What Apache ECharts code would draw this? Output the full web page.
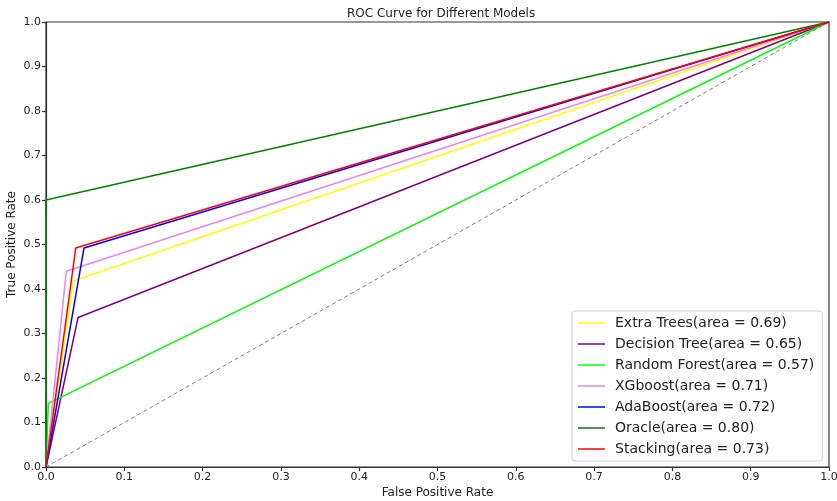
<!DOCTYPE html>
<html><head><meta charset="utf-8">
<script src="https://cdn.jsdelivr.net/npm/echarts@6/dist/echarts.min.js"></script>
<style>html,body{margin:0;padding:0;background:#fff}#c{width:837px;height:501px}</style>
</head><body><div id="c"></div>
<script>
const modelNames = ['Extra Trees(area = 0.69)','Decision Tree(area = 0.65)','Random Forest(area = 0.57)','XGboost(area = 0.71)','AdaBoost(area = 0.72)','Oracle(area = 0.80)','Stacking(area = 0.73)'];
const modelColors = ['#ffff00','#800080','#00ff00','#ee82ee','#0000ff','#008000','#ff0000'];
const fprExtraTrees = [0, 0.035, 1];
const tprExtraTrees = [0, 0.418, 1];
const fprDecisionTree = [0, 0.041, 1];
const tprDecisionTree = [0, 0.336, 1];
const fprRandomForest = [0, 0.003, 1];
const tprRandomForest = [0, 0.143, 1];
const fprXGboost = [0, 0.026, 1];
const tprXGboost = [0, 0.440, 1];
const fprAdaBoost = [0, 0.0485, 1];
const tprAdaBoost = [0, 0.492, 1];
const fprOracle = [0, 0, 1];
const tprOracle = [0, 0.6, 1];
const fprStacking = [0, 0.038, 1];
const tprStacking = [0, 0.492, 1];
const chanceFpr = [0, 1];
const chanceTpr = [0, 1];
const tickValues = [0,0.1,0.2,0.3,0.4,0.5,0.6,0.7,0.8,0.9,1.0];

const fprs = [fprExtraTrees,fprDecisionTree,fprRandomForest,fprXGboost,fprAdaBoost,fprOracle,fprStacking];
const tprs = [tprExtraTrees,tprDecisionTree,tprRandomForest,tprXGboost,tprAdaBoost,tprOracle,tprStacking];
const zip = (a,b)=>a.map((v,i)=>[v,b[i]]);

const font = 'DejaVu Sans';
const axisCommon = {
  type:'value', min:0, max:1, interval:0.1,
  axisLine:{show:true, lineStyle:{color:'#333', width:1.2}},
  axisTick:{show:true, inside:false, length:4, lineStyle:{color:'#333', width:1.2}},
  axisLabel:{color:'#222', fontFamily:font, fontSize:11, margin:5, formatter:v=>v.toFixed(1)},
  splitLine:{show:false},
  nameMoveOverlap:false,
  nameTextStyle:{color:'#222', fontFamily:font, fontSize:12}
};
const series = [{
  type:'line', name:'chance', data:zip(chanceFpr, chanceTpr), showSymbol:false, symbol:'none',
  lineStyle:{color:'#808080', width:1, type:[4,3]}, silent:true, z:1
}];
modelNames.forEach((n,i)=>series.push({
  type:'line', name:n, data:zip(fprs[i], tprs[i]), symbol:'none', showSymbol:false,
  lineStyle:{color:modelColors[i], width:1.5}, itemStyle:{color:modelColors[i]}, z:2+i
}));
const chart = echarts.init(document.getElementById('c'));
chart.setOption({
  animation:false,
  title:{text:'ROC Curve for Different Models', left:342, top:3,
    textStyle:{fontFamily:font, fontSize:12, fontWeight:'normal', color:'#222'}},
  grid:{left:46, right:8, top:22, bottom:34, show:true, borderColor:'#333', borderWidth:1.2, outerBoundsMode:'none', containLabel:false},
  xAxis:Object.assign({}, axisCommon, {name:'False Positive Rate', nameLocation:'middle', nameGap:20}),
  yAxis:Object.assign({}, axisCommon, {name:'True Positive Rate', nameLocation:'middle', nameGap:28}),
  legend:{
    data:modelNames, orient:'vertical', left:572, top:311, width:250,
    icon:'rect', itemWidth:27, itemHeight:1.5, itemGap:5,
    padding:[4,8,4,6], backgroundColor:'rgba(255,255,255,0.85)', borderColor:'#d0d0d0', borderWidth:1, borderRadius:3,
    textStyle:{fontFamily:font, fontSize:14, color:'#222', lineHeight:16, padding:[0,0,0,5]}
  },
  series:series
});
</script></body></html>
